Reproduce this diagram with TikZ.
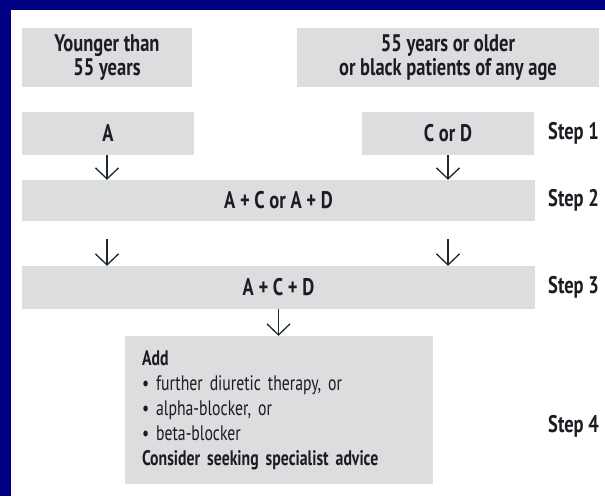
\documentclass[tikz,border=0pt]{standalone}
\usepackage{fontspec}
\setmainfont{PT Sans}
\newfontfamily\titlefont[FakeStretch=0.77]{PT Sans}
\newfontfamily\bodyfont[FakeStretch=0.75]{PT Sans}
\usetikzlibrary{arrows.meta,calc}
\definecolor{navy}{RGB}{0,0,130}
\definecolor{boxgray}{RGB}{220,221,222}
\definecolor{txt}{RGB}{28,28,34}
\definecolor{arrowc}{RGB}{28,40,48}
\begin{document}
\begin{tikzpicture}[x=1pt,y=-1pt,
  box/.style={fill=boxgray, inner sep=0pt, text=txt, align=center,
    font=\titlefont\bfseries\fontsize{24}{24}\selectfont},
  steplabel/.style={anchor=west, inner sep=0pt, text=txt,
    font=\titlefont\bfseries\fontsize{24}{24}\selectfont},
  arr/.style={draw=arrowc, line width=1.3pt,
    -{Straight Barb[length=11pt,width=23pt,line width=1.3pt]}}]
\useasboundingbox (0,0) rectangle (605,496);
\fill[white] (0,0) rectangle (605,496);
\fill[navy] (0,0) rectangle (605,10);
\fill[navy] (0,0) rectangle (11,496);

\node[box, minimum width=170pt, minimum height=59pt] (b1) at (107,57.5) {Younger than\\55 years};
\node[box, minimum width=302pt, minimum height=59pt] (b2) at (448,57.5) {55 years or older\\or black patients of any age};
\node[box, minimum width=172pt, minimum height=43pt] (bA) at (108,133.5) {A};
\node[box, minimum width=172pt, minimum height=43pt] (bCD) at (448,133.5) {C or D};
\node[box, minimum width=513pt, minimum height=41pt] (s2) at (278.5,200.5) {A + C or A + D};
\node[box, minimum width=513pt, minimum height=43pt] (s3) at (278.5,287.5) {A + C + D};
\node[box, minimum width=308pt, minimum height=148pt, text width=280pt, inner xsep=14pt, align=left,
  font=\bodyfont\fontsize{21}{25}\selectfont] (s4) at (279,410)
  {\hspace*{3pt}{\bfseries Add}\\
   \hspace*{3pt}\textbullet\ further diuretic therapy, or\\
   \hspace*{3pt}\textbullet\ alpha-blocker, or\\
   \hspace*{3pt}\textbullet\ beta-blocker\\
   \hspace*{3pt}{\bfseries Consider seeking specialist advice}};

\node[steplabel] (t1) at (548,133.5) {Step 1};
\node[steplabel] (t2) at (548,200.5) {Step 2};
\node[steplabel] (t3) at (548,287.5) {Step 3};
\node[steplabel] (t4) at (548,426) {Step 4};

\coordinate (la) at (107,155);
\coordinate (lb) at (448,155);
\coordinate (lc) at (107,239);
\coordinate (ld) at (448,239);
\draw[arr] (la) -- (la |- s2.north);
\draw[arr] (lb) -- (lb |- s2.north);
\draw[arr] (lc) -- (lc |- s3.north);
\draw[arr] (ld) -- (ld |- s3.north);
\draw[arr] (s3.south) -- (s3.south |- s4.north);
\end{tikzpicture}
\end{document}
